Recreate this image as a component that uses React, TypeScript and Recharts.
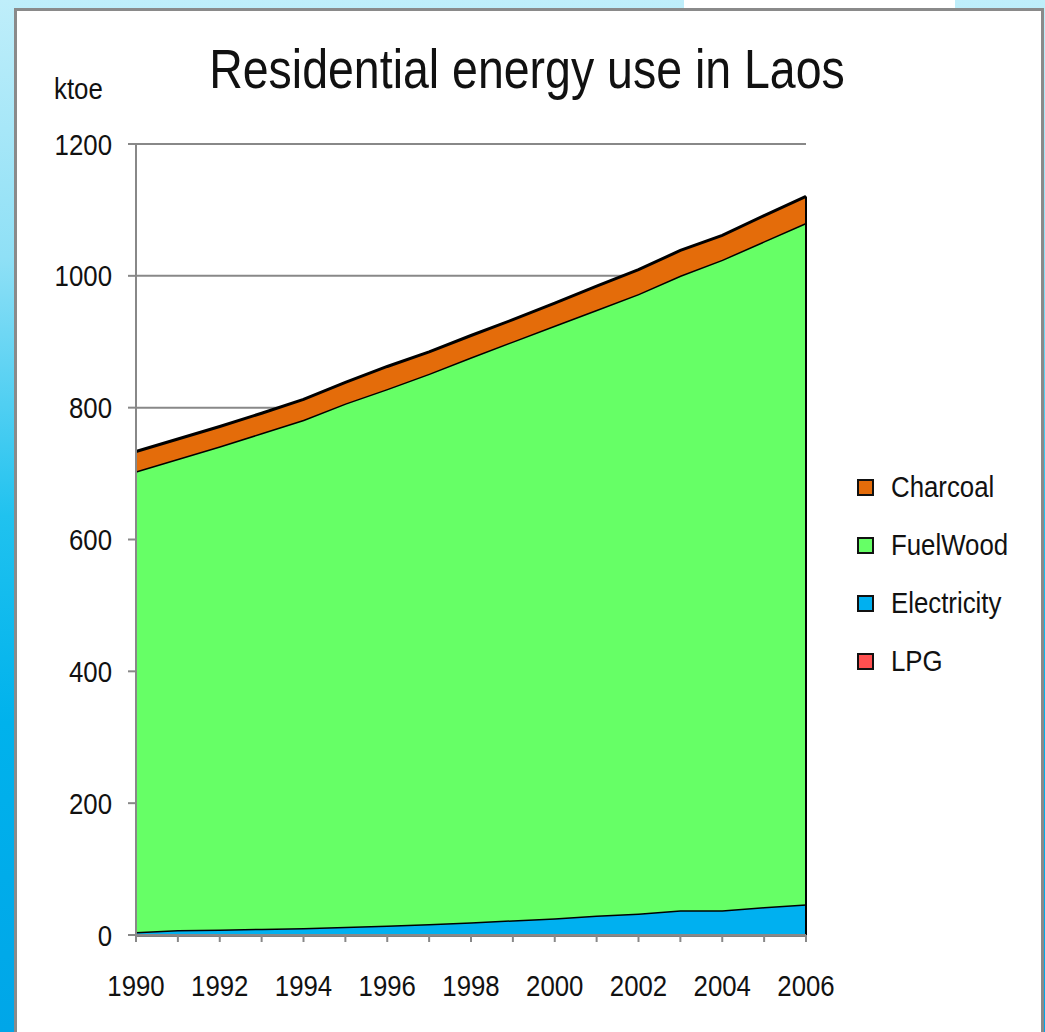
import React from 'react';
import { AreaChart, Area, XAxis, YAxis, CartesianGrid, ReferenceLine } from 'recharts';

const years = [1990, 1991, 1992, 1993, 1994, 1995, 1996, 1997, 1998, 1999, 2000, 2001, 2002, 2003, 2004, 2005, 2006];
const lpg = [0.5, 0.5, 0.5, 0.5, 0.5, 0.5, 0.5, 0.5, 0.5, 0.5, 0.5, 0.5, 0.5, 0.5, 0.5, 0.5, 0.5];
const electricity = [4, 7, 8, 9, 10, 12, 14, 16, 19, 22, 25, 29, 32, 37, 37, 42, 46];
const fuelWood = [699, 715, 733, 752, 771, 794, 814, 835, 857, 878, 899, 919, 940, 963, 987, 1010, 1034];
const charcoal = [30, 30, 30, 30, 31, 32, 34, 33, 33, 33, 34, 36, 37, 38, 37, 39, 40];
const yTicks = [0, 200, 400, 600, 800, 1000, 1200];

const seriesInfo = [
  { key: 'Charcoal', color: '#E46C0A' },
  { key: 'FuelWood', color: '#66FF66' },
  { key: 'Electricity', color: '#00B0F0' },
  { key: 'LPG', color: '#FF5050' },
];

const data = years.map((year, i) => ({
  year,
  LPG: lpg[i],
  Electricity: electricity[i],
  FuelWood: fuelWood[i],
  Charcoal: charcoal[i],
}));

const totals = data.map((d) => d.LPG + d.Electricity + d.FuelWood + d.Charcoal);
const first = years[0];
const last = years[years.length - 1];

// no narrow font installed, so squeeze Liberation Sans horizontally
const FONT = '"Liberation Sans", Arial, sans-serif';
const SQUEEZE = 0.86;

const YTick = (props: any) => {
  const { x, y, payload } = props;
  return (
    <text
      transform={`translate(${x},${y}) scale(${SQUEEZE},1)`}
      textAnchor="end"
      dy="0.35em"
      fill="#111"
      fontSize={30}
      fontFamily={FONT}
    >
      {payload.value}
    </text>
  );
};

const XTick = (props: any) => {
  const { x, y, payload } = props;
  if (payload.value % 2 !== 0) return null;
  return (
    <text
      transform={`translate(${x},${y}) scale(${SQUEEZE},1)`}
      textAnchor="middle"
      dy="0.71em"
      fill="#111"
      fontSize={30}
      fontFamily={FONT}
    >
      {payload.value}
    </text>
  );
};

const squeezed: React.CSSProperties = {
  transform: `scaleX(${SQUEEZE})`,
  transformOrigin: 'left center',
  whiteSpace: 'nowrap',
};

const LegendBox = () => (
  <div style={{ position: 'absolute', left: 857, top: 458, fontFamily: FONT, fontSize: 30, color: '#111' }}>
    {seriesInfo.map((s) => (
      <div key={s.key} style={{ display: 'flex', alignItems: 'center', height: 58 }}>
        <span
          style={{
            display: 'inline-block',
            width: 13,
            height: 13,
            background: s.color,
            border: '2px solid #111',
            marginRight: 17,
            flexShrink: 0,
          }}
        />
        <span style={{ ...squeezed, display: 'inline-block' }}>{s.key}</span>
      </div>
    ))}
  </div>
);

export default function App() {
  return (
    <div
      style={{
        position: 'fixed',
        left: 0,
        top: 0,
        width: 1045,
        height: 1032,
        overflow: 'hidden',
        background: 'linear-gradient(to bottom, #bfeefa 0%, #8fe0f6 25%, #20c2ef 50%, #00b2ec 70%, #00a6e8 100%)',
      }}
    >
      <div style={{ position: 'absolute', left: 684, top: 0, width: 271, height: 10, background: '#fff' }} />
      <div
        style={{
          position: 'absolute',
          left: 14,
          top: 8,
          width: 1024,
          height: 1040,
          background: '#fff',
          border: '3px solid #8a8a8a',
        }}
      />
      <div
        style={{
          position: 'absolute',
          left: 527,
          top: 37,
          fontFamily: FONT,
          fontSize: 56,
          lineHeight: '64px',
          color: '#111',
          whiteSpace: 'nowrap',
          transform: `translateX(-50%) scaleX(0.83)`,
          transformOrigin: 'center',
        }}
      >
        Residential energy use in Laos
      </div>
      <div
        style={{
          position: 'absolute',
          left: 54,
          top: 73,
          fontFamily: FONT,
          fontSize: 30,
          lineHeight: '32px',
          color: '#111',
          ...squeezed,
        }}
      >
        ktoe
      </div>
      <div style={{ position: 'absolute', left: 0, top: 0 }}>
        <AreaChart
          width={1045}
          height={1032}
          data={data}
          margin={{ top: 144, right: 239, bottom: 17, left: 56 }}
        >
          <CartesianGrid vertical={false} stroke="#888" strokeWidth={2} />
          <XAxis
            dataKey="year"
            type="number"
            domain={[first, last]}
            ticks={years}
            interval={0}
            height={80}
            tickSize={7}
            tickMargin={33}
            stroke="#888"
            strokeWidth={2}
            tick={<XTick />}
          />
          <YAxis
            domain={[0, 1200]}
            ticks={yTicks}
            width={80}
            tickSize={8}
            tickMargin={16}
            stroke="#888"
            strokeWidth={2}
            tick={<YTick />}
          />
          <Area type="linear" dataKey="LPG" stackId="1" fill="#FF5050" fillOpacity={1} stroke="#000" strokeWidth={3.5} isAnimationActive={false} />
          <Area type="linear" dataKey="Electricity" stackId="1" fill="#00B0F0" fillOpacity={1} stroke="#000" strokeWidth={3} isAnimationActive={false} />
          <Area type="linear" dataKey="FuelWood" stackId="1" fill="#66FF66" fillOpacity={1} stroke="#000" strokeWidth={3} isAnimationActive={false} />
          <Area type="linear" dataKey="Charcoal" stackId="1" fill="#E46C0A" fillOpacity={1} stroke="#000" strokeWidth={3} isAnimationActive={false} />
          <ReferenceLine segment={[{ x: first, y: 0 }, { x: first, y: totals[0] }]} stroke="#000" strokeWidth={2} />
          <ReferenceLine
            segment={[{ x: last, y: 0 }, { x: last, y: totals[totals.length - 1] }]}
            stroke="#000"
            strokeWidth={2}
          />
        </AreaChart>
      </div>
      <LegendBox />
    </div>
  );
}
